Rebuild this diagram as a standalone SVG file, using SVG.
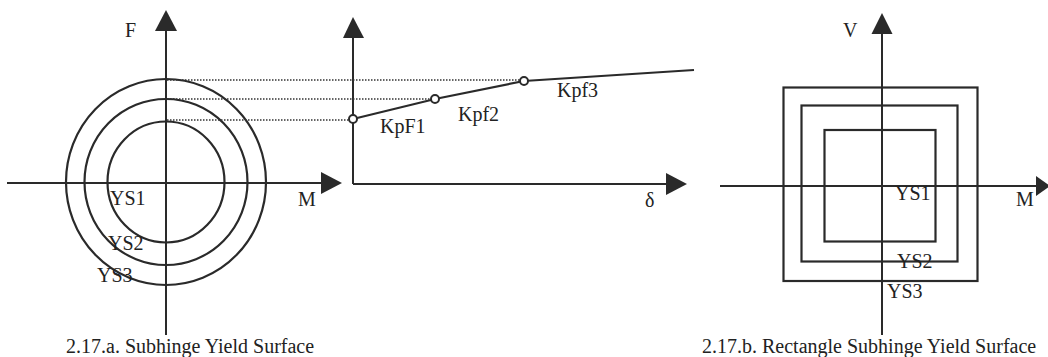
<svg xmlns="http://www.w3.org/2000/svg" width="1048" height="357" viewBox="0 0 1048 357">
<style>
.ax{stroke:#2a2a2a;stroke-width:2;fill:none}
.sh{stroke:#2a2a2a;stroke-width:2.2;fill:none}
.dot{stroke:#333;stroke-width:1.6;stroke-dasharray:1.5 1.5;fill:none}
.ah{fill:#2a2a2a}
.pt{fill:#fff;stroke:#2a2a2a;stroke-width:2}
text{font-family:"Liberation Serif","Times New Roman",serif;font-size:20px;fill:#222}
</style>
<rect width="1048" height="357" fill="#fff"/>
<g id="fig-a">
<line class="ax" x1="166" y1="28" x2="166" y2="335"/>
<polygon class="ah" points="166,10 155,31 177,31"/>
<line class="ax" x1="7" y1="183" x2="324" y2="183"/>
<polygon class="ah" points="342,183 321,172 321,194"/>
<ellipse class="sh" cx="166" cy="182" rx="100" ry="103"/>
<ellipse class="sh" cx="166" cy="182" rx="81.5" ry="83"/>
<ellipse class="sh" cx="166" cy="182" rx="58.5" ry="60.5"/>
<text x="125" y="37">F</text>
<text x="110" y="205">YS1</text>
<text x="298" y="206">M</text>
<text x="108" y="250">YS2</text>
<text x="97" y="282">YS3</text>
<text x="66" y="353">2.17.a. Subhinge Yield Surface</text>
</g>
<g id="fig-curve">
<line class="ax" x1="353" y1="36" x2="353" y2="184"/>
<polygon class="ah" points="353,17 343,38 364,38"/>
<line class="ax" x1="353" y1="184" x2="668" y2="184"/>
<polygon class="ah" points="687,184 666,173 666,195"/>
<polyline class="sh" points="353,119 435,99 524,81 694,70"/>
<circle class="pt" cx="353" cy="119" r="4"/>
<circle class="pt" cx="435" cy="99" r="4"/>
<circle class="pt" cx="524" cy="81" r="4"/>
<text x="380" y="133">KpF1</text>
<text x="458" y="121">Kpf2</text>
<text x="557" y="97">Kpf3</text>
<text x="645" y="207">δ</text>
</g>
<g id="connectors">
<line class="dot" x1="167" y1="80" x2="520" y2="80"/>
<line class="dot" x1="167" y1="99" x2="431" y2="99"/>
<line class="dot" x1="167" y1="120" x2="349" y2="120"/>
</g>
<g id="fig-b">
<line class="ax" x1="882" y1="30" x2="882" y2="335"/>
<polygon class="ah" points="882,13 871.5,34 892.5,34"/>
<line class="ax" x1="720" y1="186" x2="1039" y2="186"/>
<polygon class="ah" points="1050,186 1036,176 1036,196"/>
<rect class="sh" x="783.5" y="87.5" width="194" height="193.5"/>
<rect class="sh" x="801.5" y="105.5" width="156" height="156"/>
<rect class="sh" x="824.5" y="130" width="111" height="111.5"/>
<text x="843" y="37">V</text>
<text x="895" y="200">YS1</text>
<text x="1016" y="206">M</text>
<text x="897" y="268">YS2</text>
<text x="887" y="298">YS3</text>
<text x="702" y="353">2.17.b. Rectangle Subhinge Yield Surface</text>
</g>
</svg>
